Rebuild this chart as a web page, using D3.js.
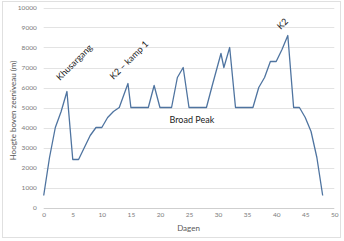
<!DOCTYPE html>
<html>
<head>
<meta charset="utf-8">
<script src="https://cdn.jsdelivr.net/npm/d3@7"></script>
<style>
  body { margin: 0; background: #fff; }
  svg { display: block; font-family: Lato, 'Open Sans', sans-serif; }
</style>
</head>
<body>
<svg id="chart" width="344" height="241"></svg>
<script>

// days and altitude (m)
const days = [0, 1, 2, 3, 4, 5, 6, 7, 8, 9, 10, 11, 12, 13, 14.5, 15, 18, 19, 20, 22, 23, 24, 25, 28, 29, 30.5, 31, 32, 33, 36, 37, 38, 39, 40, 41, 42, 43, 44, 45, 46, 47, 48]
const heights = [600, 2500, 4000, 4800, 5800, 2400, 2400, 3000, 3600, 4000, 4000, 4500, 4800, 5000, 6200, 5000, 5000, 6100, 5000, 5000, 6500, 7000, 5000, 5000, 6100, 7700, 7000, 8000, 5000, 5000, 6000, 6500, 7300, 7300, 7900, 8600, 5000, 5000, 4500, 3800, 2500, 600]

const xTicks = [0, 5, 10, 15, 20, 25, 30, 35, 40, 45, 50]
const yTicks = [0, 1000, 2000, 3000, 4000, 5000, 6000, 7000, 8000, 9000, 10000]

// label texts with their anchor (day, altitude)
const noteText = ['Khusargang', 'K2 \u2013 kamp 1', 'K2', 'Broad Peak']
const noteDay = [2.8, 12.0, 40.8, 21.65]
const noteAlt = [6325, 6375, 8875, 4240]
const noteTilt = [true, true, true, false]

const xTitle = 'Dagen'
const yTitle = 'Hoogte boven zeeniveau (m)'

const svg = d3.select('#chart')

svg.append('rect')
    .attr('x', 2.5).attr('y', 1.5)
    .attr('width', 338).attr('height', 236)
    .attr('fill', '#fff')
    .attr('stroke', '#e0e0e0')

const x = d3.scaleLinear().domain([0, 50]).range([43.7, 334.3])
const y = d3.scaleLinear().domain([0, 10000]).range([207.5, 7.5])

// grid
svg.append('g')
    .selectAll('line')
    .data(yTicks)
    .enter()
    .append('line')
    .attr('x1', x(0)).attr('x2', x(50))
    .attr('y1', d => Math.round(y(d)) + 0.5)
    .attr('y2', d => Math.round(y(d)) + 0.5)
    .attr('stroke', d => d === 0 ? '#cfcfcf' : '#e3e3e3')
    .attr('stroke-width', 1)

const xf = d3.axisBottom(x).tickValues(xTicks).tickSize(0).tickPadding(5)
const yf = d3.axisLeft(y).tickValues(yTicks).tickFormat(d3.format('d')).tickSize(0).tickPadding(7)

const xg = svg.append('g').attr('transform', `translate(0,${y(0)})`).call(xf)
const yg = svg.append('g').attr('transform', `translate(${x(0)},0)`).call(yf)

svg.selectAll('.domain').remove()
svg.selectAll('.tick text')
    .attr('fill', '#7a7a7a')
    .attr('font-size', 6.5)
    .attr('font-family', 'Lato, sans-serif')

// line
const line = d3.line().x((d, i) => x(days[i])).y(d => y(d))

svg.append('path')
    .datum(heights)
    .attr('fill', 'none')
    .attr('stroke', '#4f74a0')
    .attr('stroke-width', 1.3)
    .attr('stroke-linejoin', 'round')
    .attr('d', line)

// annotations
svg.append('g')
    .selectAll('text')
    .data(noteText)
    .enter()
    .append('text')
    .attr('transform', (d, i) => `translate(${x(noteDay[i])},${y(noteAlt[i])})` + (noteTilt[i] ? ' rotate(-45)' : ''))
    .attr('font-size', 9)
    .attr('fill', '#222')
    .text(d => d)

// axis titles
svg.append('text')
    .attr('x', x(25) - 0.5)
    .attr('y', 231)
    .attr('text-anchor', 'middle')
    .attr('font-size', 8)
    .attr('fill', '#595959')
    .text(xTitle)

svg.append('text')
    .attr('transform', `translate(16,${y(4850)}) rotate(-90)`)
    .attr('text-anchor', 'middle')
    .attr('font-size', 8)
    .attr('fill', '#595959')
    .text(yTitle)

</script>
</body>
</html>
